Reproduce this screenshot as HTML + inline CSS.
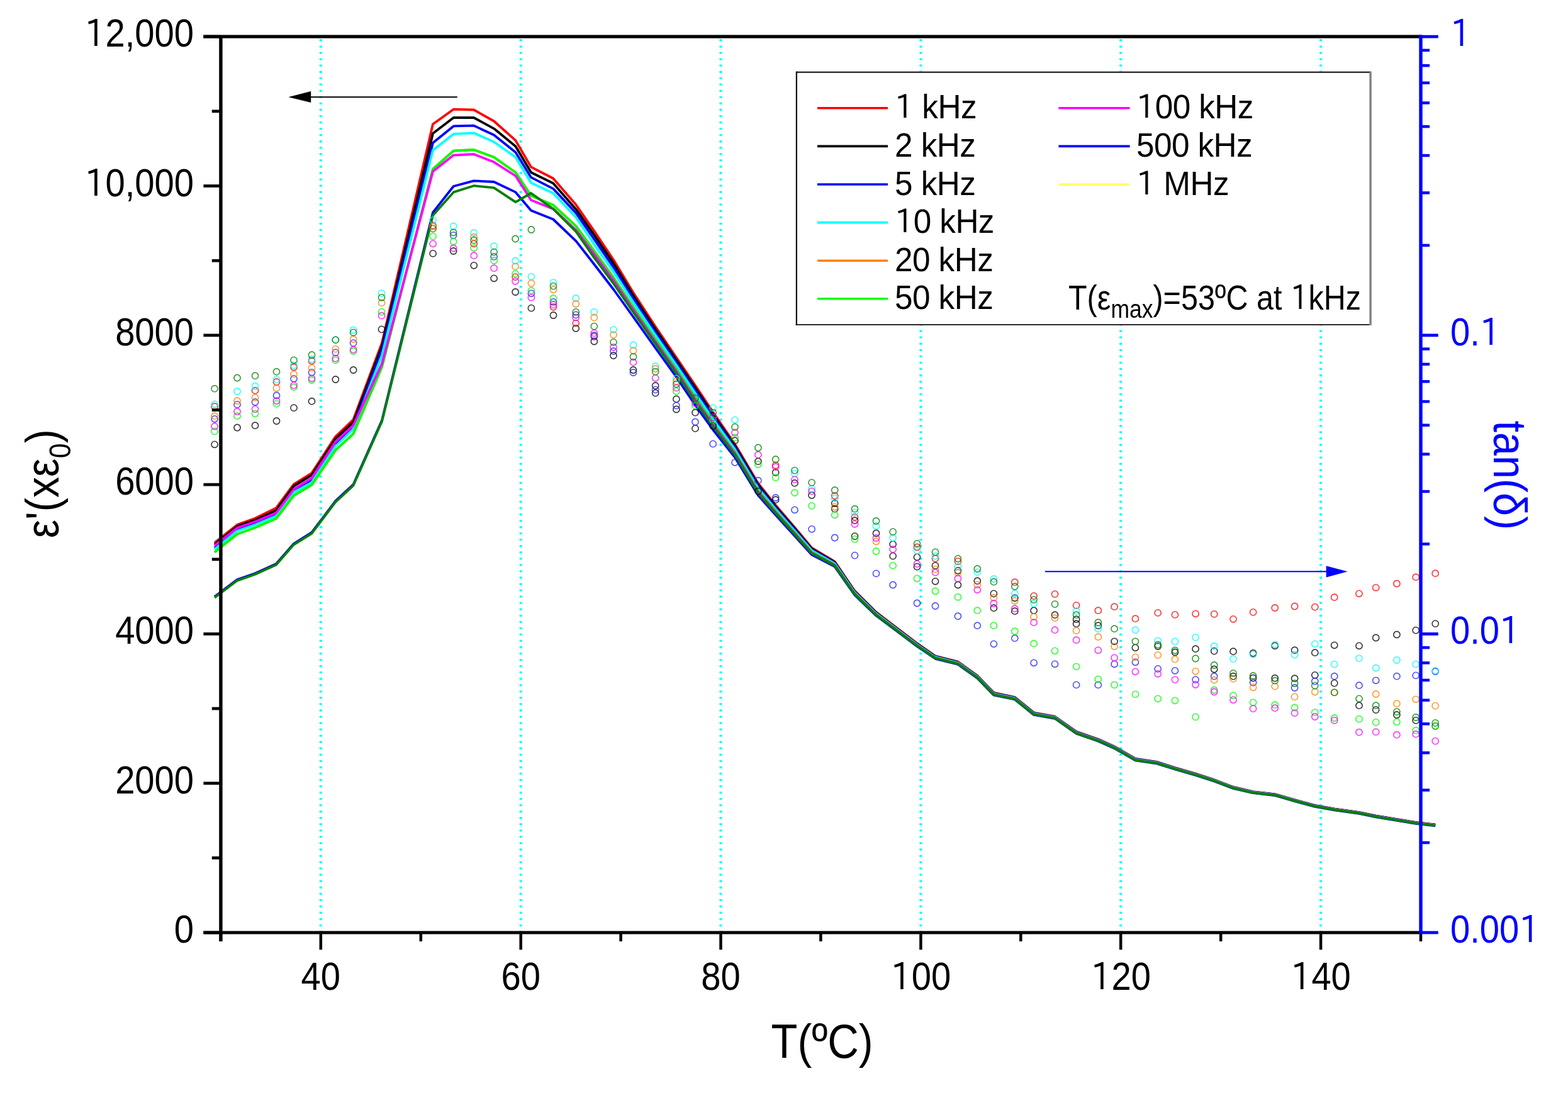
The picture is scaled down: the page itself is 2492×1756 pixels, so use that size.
<!DOCTYPE html>
<html><head><meta charset="utf-8"><style>
html,body{margin:0;padding:0;background:#fff;}
svg{display:block;}
text{font-family:'Liberation Sans', Arial, sans-serif;}
</style></head><body>
<svg width="2492" height="1756" viewBox="0 0 2492 1756">
<rect width="2492" height="1756" fill="#fff"/>
<line x1="509.8" y1="62.35" x2="509.8" y2="1480.0" stroke="#00FFFF" stroke-width="4" stroke-dasharray="3.3 6.747"/>
<line x1="827.7" y1="62.35" x2="827.7" y2="1480.0" stroke="#00FFFF" stroke-width="4" stroke-dasharray="3.3 6.747"/>
<line x1="1145.5" y1="62.35" x2="1145.5" y2="1480.0" stroke="#00FFFF" stroke-width="4" stroke-dasharray="3.3 6.747"/>
<line x1="1463.4" y1="62.35" x2="1463.4" y2="1480.0" stroke="#00FFFF" stroke-width="4" stroke-dasharray="3.3 6.747"/>
<line x1="1781.2" y1="62.35" x2="1781.2" y2="1480.0" stroke="#00FFFF" stroke-width="4" stroke-dasharray="3.3 6.747"/>
<line x1="2099.1" y1="62.35" x2="2099.1" y2="1480.0" stroke="#00FFFF" stroke-width="4" stroke-dasharray="3.3 6.747"/>
<polyline points="341.0,862.6 377.0,833.9 405.3,823.8 439.0,807.2 466.8,769.7 495.4,751.9 533.2,693.9 561.5,667.0 607.0,545.0 688.0,197.2 720.8,173.7 753.0,174.5 785.0,192.5 819.4,223.1 844.0,265.4 879.2,283.5 915.5,325.6 944.3,367.0 975.1,413.0 1006.4,465.0 1041.6,519.0 1074.8,568.0 1105.0,612.5 1133.2,655.0 1168.1,706.0 1204.8,768.0 1232.8,803.0 1262.8,838.0 1290.2,870.6 1326.6,892.4 1358.5,939.2 1392.4,972.8 1418.8,993.1 1457.3,1022.3 1486.5,1042.5 1522.4,1051.7 1553.3,1073.8 1579.4,1100.9 1612.8,1108.0 1643.1,1132.6 1676.5,1138.7 1710.6,1162.8 1745.3,1174.8 1771.1,1186.4 1804.4,1205.6 1838.5,1210.8 1867.4,1220.0 1900.1,1229.6 1929.7,1239.2 1960.0,1250.7 1991.6,1258.1 2026.2,1262.1 2057.5,1271.1 2089.8,1279.8 2120.7,1285.3 2160.0,1290.8 2186.7,1296.3 2219.9,1301.8 2250.2,1306.8 2281.2,1310.3" fill="none" stroke="#FF0000" stroke-width="3.8" stroke-linejoin="round"/>
<polyline points="341.0,865.2 377.0,836.4 405.3,826.5 439.0,811.2 466.8,772.6 495.4,755.0 533.2,697.5 561.5,671.0 607.0,550.0 688.0,212.1 720.8,187.0 753.0,187.0 785.0,204.3 819.4,232.5 844.0,274.0 879.2,291.3 915.5,332.7 944.3,373.4 975.1,418.6 1006.4,469.6 1041.6,523.1 1074.8,571.7 1105.0,616.3 1133.2,658.4 1168.1,708.5 1204.8,770.3 1232.8,804.9 1262.8,839.6 1290.2,871.9 1326.6,893.3 1358.5,940.0 1392.4,973.5 1418.8,993.7 1457.3,1022.9 1486.5,1043.0 1522.4,1052.2 1553.3,1074.3 1579.4,1101.3 1612.8,1108.4 1643.1,1133.0 1676.5,1139.1 1710.6,1163.1 1745.3,1175.2 1771.1,1186.7 1804.4,1206.0 1838.5,1211.1 1867.4,1220.3 1900.1,1229.9 1929.7,1239.4 1960.0,1251.0 1991.6,1258.3 2026.2,1262.4 2057.5,1271.4 2089.8,1280.1 2120.7,1285.6 2160.0,1291.1 2186.7,1296.6 2219.9,1302.1 2250.2,1307.1 2281.2,1310.6" fill="none" stroke="#000000" stroke-width="3.8" stroke-linejoin="round"/>
<polyline points="341.0,870.5 377.0,841.8 405.3,831.5 439.0,817.5 466.8,780.0 495.4,763.0 533.2,705.0 561.5,678.0 607.0,556.0 688.0,227.0 720.8,200.4 753.0,199.6 785.0,214.5 819.4,241.9 844.0,281.9 879.2,299.9 915.5,338.6 944.3,380.2 975.1,424.8 1006.4,474.6 1041.6,527.5 1074.8,575.8 1105.0,620.4 1133.2,662.0 1168.1,711.2 1204.8,772.7 1232.8,806.9 1262.8,841.3 1290.2,873.4 1326.6,894.4 1358.5,940.9 1392.4,974.2 1418.8,994.4 1457.3,1023.5 1486.5,1043.6 1522.4,1052.7 1553.3,1074.7 1579.4,1101.8 1612.8,1108.8 1643.1,1133.4 1676.5,1139.5 1710.6,1163.5 1745.3,1175.5 1771.1,1187.1 1804.4,1206.3 1838.5,1211.4 1867.4,1220.7 1900.1,1230.2 1929.7,1239.7 1960.0,1251.3 1991.6,1258.6 2026.2,1262.6 2057.5,1271.6 2089.8,1280.3 2120.7,1285.8 2160.0,1291.3 2186.7,1296.8 2219.9,1302.3 2250.2,1307.3 2281.2,1310.8" fill="none" stroke="#0000FF" stroke-width="3.8" stroke-linejoin="round"/>
<polyline points="341.0,873.0 377.0,843.8 405.3,834.0 439.0,820.1 466.8,782.5 495.4,766.7 533.2,709.0 561.5,682.0 607.0,565.0 688.0,238.8 720.8,212.9 753.0,211.3 785.0,225.5 819.4,249.8 844.0,290.5 879.2,307.0 915.5,345.5 944.3,388.2 975.1,431.8 1006.4,480.4 1041.6,532.6 1074.8,580.4 1105.0,625.1 1133.2,666.2 1168.1,714.4 1204.8,775.6 1232.8,809.2 1262.8,843.4 1290.2,875.0 1326.6,895.6 1358.5,941.8 1392.4,975.0 1418.8,995.1 1457.3,1024.2 1486.5,1044.2 1522.4,1053.3 1553.3,1075.3 1579.4,1102.3 1612.8,1109.4 1643.1,1133.9 1676.5,1139.9 1710.6,1164.0 1745.3,1176.0 1771.1,1187.5 1804.4,1206.7 1838.5,1211.8 1867.4,1221.0 1900.1,1230.6 1929.7,1240.1 1960.0,1251.6 1991.6,1258.9 2026.2,1262.9 2057.5,1271.9 2089.8,1280.6 2120.7,1286.1 2160.0,1291.6 2186.7,1297.1 2219.9,1302.6 2250.2,1307.6 2281.2,1311.1" fill="none" stroke="#00FFFF" stroke-width="3.8" stroke-linejoin="round"/>
<polyline points="341.0,877.4 377.0,848.7 405.3,838.5 439.0,824.0 466.8,787.5 495.4,770.6 533.2,715.4 561.5,689.3 607.0,583.0 688.0,268.6 720.8,239.6 753.0,238.0 785.0,249.8 819.4,274.0 844.0,310.9 879.2,325.8 915.5,359.3 944.3,398.8 975.1,441.2 1006.4,488.1 1041.6,539.4 1074.8,586.6 1105.0,631.4 1133.2,671.8 1168.1,718.6 1204.8,779.4 1232.8,812.3 1262.8,846.1 1290.2,877.2 1326.6,897.2 1358.5,943.1 1392.4,976.1 1418.8,996.1 1457.3,1025.1 1486.5,1045.1 1522.4,1054.1 1553.3,1076.1 1579.4,1103.1 1612.8,1110.1 1643.1,1134.6 1676.5,1140.6 1710.6,1164.6 1745.3,1176.6 1771.1,1188.1 1804.4,1207.3 1838.5,1212.4 1867.4,1221.5 1900.1,1231.0 1929.7,1240.5 1960.0,1252.0 1991.6,1259.3 2026.2,1263.3 2057.5,1272.3 2089.8,1281.0 2120.7,1286.5 2160.0,1292.0 2186.7,1297.5 2219.9,1303.0 2250.2,1308.0 2281.2,1311.5" fill="none" stroke="#FF8000" stroke-width="3.8" stroke-linejoin="round"/>
<polyline points="341.0,877.4 377.0,848.7 405.3,838.5 439.0,824.0 466.8,787.5 495.4,770.6 533.2,715.4 561.5,689.3 607.0,583.0 688.0,268.6 720.8,239.6 753.0,238.0 785.0,249.8 819.4,274.0 844.0,310.9 879.2,325.8 915.5,359.3 944.3,398.8 975.1,441.2 1006.4,488.1 1041.6,539.4 1074.8,586.6 1105.0,631.4 1133.2,671.8 1168.1,718.6 1204.8,779.4 1232.8,812.3 1262.8,846.1 1290.2,877.2 1326.6,897.2 1358.5,943.1 1392.4,976.1 1418.8,996.1 1457.3,1025.1 1486.5,1045.1 1522.4,1054.1 1553.3,1076.1 1579.4,1103.1 1612.8,1110.1 1643.1,1134.6 1676.5,1140.6 1710.6,1164.6 1745.3,1176.6 1771.1,1188.1 1804.4,1207.3 1838.5,1212.4 1867.4,1221.5 1900.1,1231.0 1929.7,1240.5 1960.0,1252.0 1991.6,1259.3 2026.2,1263.3 2057.5,1272.3 2089.8,1281.0 2120.7,1286.5 2160.0,1292.0 2186.7,1297.5 2219.9,1303.0 2250.2,1308.0 2281.2,1311.5" fill="none" stroke="#00FF00" stroke-width="3.8" stroke-linejoin="round"/>
<polyline points="341.0,867.0 377.0,838.9 405.3,829.0 439.0,815.1 466.8,777.6 495.4,759.8 533.2,702.0 561.5,676.0 607.0,578.0 688.0,272.5 720.8,246.6 753.0,245.0 785.0,257.6 819.4,279.5 844.0,318.0 879.2,332.0 915.5,366.0 944.3,404.1 975.1,445.9 1006.4,491.9 1041.6,542.8 1074.8,589.7 1105.0,634.5 1133.2,674.6 1168.1,720.7 1204.8,781.3 1232.8,813.9 1262.8,847.4 1290.2,878.3 1326.6,898.0 1358.5,943.8 1392.4,976.7 1418.8,996.6 1457.3,1025.6 1486.5,1045.5 1522.4,1054.5 1553.3,1076.5 1579.4,1103.4 1612.8,1110.4 1643.1,1134.9 1676.5,1140.9 1710.6,1164.9 1745.3,1176.8 1771.1,1188.3 1804.4,1207.5 1838.5,1212.6 1867.4,1221.8 1900.1,1231.3 1929.7,1240.8 1960.0,1252.3 1991.6,1259.6 2026.2,1263.5 2057.5,1272.5 2089.8,1281.2 2120.7,1286.7 2160.0,1292.2 2186.7,1297.7 2219.9,1303.2 2250.2,1308.2 2281.2,1311.7" fill="none" stroke="#FF00FF" stroke-width="3.8" stroke-linejoin="round"/>
<polyline points="341.0,948.3 377.0,921.0 405.3,911.2 439.0,896.0 466.8,864.0 495.4,846.2 533.2,796.2 561.5,770.0 607.0,668.0 688.0,337.6 720.8,296.0 753.0,287.4 785.0,289.0 819.4,305.4 844.0,334.4 879.2,348.5 915.5,383.1 944.3,420.0 975.1,460.0 1006.4,503.5 1041.6,553.0 1074.8,599.0 1105.0,644.0 1133.2,683.0 1168.1,727.0 1204.8,787.0 1232.8,818.5 1262.8,851.5 1290.2,881.6 1326.6,900.4 1358.5,945.7 1392.4,978.3 1418.8,998.1 1457.3,1026.9 1486.5,1046.8 1522.4,1055.7 1553.3,1077.6 1579.4,1104.6 1612.8,1111.5 1643.1,1135.9 1676.5,1141.8 1710.6,1165.8 1745.3,1177.7 1771.1,1189.2 1804.4,1208.3 1838.5,1213.4 1867.4,1222.5 1900.1,1232.0 1929.7,1241.5 1960.0,1252.9 1991.6,1260.2 2026.2,1264.1 2057.5,1273.1 2089.8,1281.8 2120.7,1287.3 2160.0,1292.8 2186.7,1298.3 2219.9,1303.8 2250.2,1308.8 2281.2,1312.3" fill="none" stroke="#0000FF" stroke-width="3.8" stroke-linejoin="round"/>
<polyline points="341.0,949.8 377.0,922.6 405.3,912.7 439.0,897.6 466.8,865.6 495.4,847.8 533.2,797.8 561.5,771.6 607.0,669.7 688.0,342.3 720.8,305.4 753.0,295.2 785.0,298.4 819.4,321.1 844.0,307.0 879.2,332.0 915.5,368.2 944.3,409.4 975.1,450.6 1006.4,495.8 1041.6,546.2 1074.8,592.8 1105.0,637.7 1133.2,677.4 1168.1,722.8 1204.8,783.2 1232.8,815.4 1262.8,848.8 1290.2,879.4 1326.6,898.8 1358.5,944.4 1392.4,977.2 1418.8,997.1 1457.3,1026.0 1486.5,1045.9 1522.4,1054.9 1553.3,1076.8 1579.4,1103.8 1612.8,1110.8 1643.1,1135.2 1676.5,1141.2 1710.6,1165.2 1745.3,1177.1 1771.1,1188.6 1804.4,1207.8 1838.5,1212.9 1867.4,1222.0 1900.1,1231.5 1929.7,1241.0 1960.0,1252.5 1991.6,1259.8 2026.2,1263.7 2057.5,1272.7 2089.8,1281.4 2120.7,1286.9 2160.0,1292.4 2186.7,1297.9 2219.9,1303.4 2250.2,1308.4 2281.2,1311.9" fill="none" stroke="#008000" stroke-width="3.8" stroke-linejoin="round"/>
<g fill="none" stroke="#FF0000" stroke-width="1.6" stroke-opacity="0.8"><circle cx="341.1" cy="646.0" r="5.1"/><circle cx="405.5" cy="620.7" r="5.1"/><circle cx="439.5" cy="607.0" r="5.1"/><circle cx="467.0" cy="583.5" r="5.1"/><circle cx="495.5" cy="573.5" r="5.1"/><circle cx="688.1" cy="358.4" r="5.1"/><circle cx="753.2" cy="387.3" r="5.1"/><circle cx="819.1" cy="440.1" r="5.1"/><circle cx="879.5" cy="487.8" r="5.1"/><circle cx="915.2" cy="513.6" r="5.1"/><circle cx="944.3" cy="535.0" r="5.1"/><circle cx="1232.7" cy="739.4" r="5.1"/><circle cx="1326.7" cy="787.8" r="5.1"/><circle cx="1358.5" cy="821.6" r="5.1"/><circle cx="1457.5" cy="869.5" r="5.1"/><circle cx="1486.5" cy="887.6" r="5.1"/><circle cx="1522.4" cy="892.1" r="5.1"/><circle cx="1612.8" cy="925.2" r="5.1"/><circle cx="1643.1" cy="947.1" r="5.1"/><circle cx="1676.5" cy="944.1" r="5.1"/><circle cx="1710.6" cy="962.1" r="5.1"/><circle cx="1745.3" cy="970.2" r="5.1"/><circle cx="1771.1" cy="964.2" r="5.1"/><circle cx="1804.4" cy="983.2" r="5.1"/><circle cx="1840.2" cy="973.9" r="5.1"/><circle cx="1867.4" cy="976.9" r="5.1"/><circle cx="1900.1" cy="975.3" r="5.1"/><circle cx="1929.7" cy="975.9" r="5.1"/><circle cx="1960.0" cy="983.8" r="5.1"/><circle cx="1991.6" cy="972.9" r="5.1"/><circle cx="2026.2" cy="966.0" r="5.1"/><circle cx="2057.6" cy="963.5" r="5.1"/><circle cx="2089.8" cy="964.6" r="5.1"/><circle cx="2120.7" cy="949.2" r="5.1"/><circle cx="2160.0" cy="943.3" r="5.1"/><circle cx="2186.7" cy="933.8" r="5.1"/><circle cx="2219.9" cy="927.5" r="5.1"/><circle cx="2250.2" cy="917.2" r="5.1"/><circle cx="2281.2" cy="911.2" r="5.1"/></g>
<g fill="none" stroke="#000000" stroke-width="1.6" stroke-opacity="0.8"><circle cx="341.1" cy="706.3" r="5.1"/><circle cx="377.0" cy="679.5" r="5.1"/><circle cx="405.5" cy="676.2" r="5.1"/><circle cx="439.5" cy="669.0" r="5.1"/><circle cx="467.0" cy="648.1" r="5.1"/><circle cx="495.5" cy="637.7" r="5.1"/><circle cx="533.3" cy="603.0" r="5.1"/><circle cx="561.6" cy="588.0" r="5.1"/><circle cx="606.5" cy="523.4" r="5.1"/><circle cx="688.1" cy="402.9" r="5.1"/><circle cx="720.6" cy="399.0" r="5.1"/><circle cx="753.2" cy="421.8" r="5.1"/><circle cx="785.1" cy="442.3" r="5.1"/><circle cx="819.1" cy="464.0" r="5.1"/><circle cx="844.4" cy="489.6" r="5.1"/><circle cx="879.5" cy="501.0" r="5.1"/><circle cx="915.2" cy="521.8" r="5.1"/><circle cx="944.3" cy="542.5" r="5.1"/><circle cx="975.0" cy="565.0" r="5.1"/><circle cx="1006.5" cy="588.0" r="5.1"/><circle cx="1041.7" cy="613.0" r="5.1"/><circle cx="1041.7" cy="624.6" r="5.1"/><circle cx="1074.9" cy="634.2" r="5.1"/><circle cx="1074.9" cy="650.5" r="5.1"/><circle cx="1105.0" cy="655.7" r="5.1"/><circle cx="1105.0" cy="680.9" r="5.1"/><circle cx="1133.2" cy="677.2" r="5.1"/><circle cx="1168.0" cy="700.2" r="5.1"/><circle cx="1204.9" cy="733.2" r="5.1"/><circle cx="1204.9" cy="780.6" r="5.1"/><circle cx="1232.7" cy="750.9" r="5.1"/><circle cx="1232.7" cy="794.2" r="5.1"/><circle cx="1263.0" cy="767.7" r="5.1"/><circle cx="1290.1" cy="787.0" r="5.1"/><circle cx="1326.7" cy="799.9" r="5.1"/><circle cx="1326.7" cy="808.7" r="5.1"/><circle cx="1358.5" cy="827.2" r="5.1"/><circle cx="1358.5" cy="852.1" r="5.1"/><circle cx="1392.5" cy="847.5" r="5.1"/><circle cx="1419.1" cy="864.9" r="5.1"/><circle cx="1419.1" cy="883.6" r="5.1"/><circle cx="1457.5" cy="885.3" r="5.1"/><circle cx="1457.5" cy="900.6" r="5.1"/><circle cx="1486.5" cy="898.9" r="5.1"/><circle cx="1486.5" cy="923.8" r="5.1"/><circle cx="1522.4" cy="906.8" r="5.1"/><circle cx="1522.4" cy="929.5" r="5.1"/><circle cx="1553.3" cy="923.2" r="5.1"/><circle cx="1579.4" cy="943.4" r="5.1"/><circle cx="1579.4" cy="966.2" r="5.1"/><circle cx="1612.8" cy="950.3" r="5.1"/><circle cx="1612.8" cy="971.2" r="5.1"/><circle cx="1643.1" cy="970.2" r="5.1"/><circle cx="1676.5" cy="977.2" r="5.1"/><circle cx="1710.6" cy="984.2" r="5.1"/><circle cx="1710.6" cy="991.2" r="5.1"/><circle cx="1745.3" cy="994.2" r="5.1"/><circle cx="1771.1" cy="1019.3" r="5.1"/><circle cx="1804.4" cy="1029.3" r="5.1"/><circle cx="1840.2" cy="1027.0" r="5.1"/><circle cx="1867.4" cy="1036.5" r="5.1"/><circle cx="1900.1" cy="1031.2" r="5.1"/><circle cx="1929.7" cy="1034.6" r="5.1"/><circle cx="1929.7" cy="1063.5" r="5.1"/><circle cx="1960.0" cy="1035.2" r="5.1"/><circle cx="1960.0" cy="1074.7" r="5.1"/><circle cx="1991.6" cy="1038.0" r="5.1"/><circle cx="1991.6" cy="1077.5" r="5.1"/><circle cx="2026.2" cy="1026.3" r="5.1"/><circle cx="2026.2" cy="1077.7" r="5.1"/><circle cx="2057.6" cy="1033.2" r="5.1"/><circle cx="2057.6" cy="1078.2" r="5.1"/><circle cx="2089.8" cy="1037.2" r="5.1"/><circle cx="2089.8" cy="1072.8" r="5.1"/><circle cx="2120.7" cy="1025.3" r="5.1"/><circle cx="2120.7" cy="1085.6" r="5.1"/><circle cx="2160.0" cy="1026.3" r="5.1"/><circle cx="2160.0" cy="1121.2" r="5.1"/><circle cx="2186.7" cy="1013.5" r="5.1"/><circle cx="2186.7" cy="1128.1" r="5.1"/><circle cx="2219.9" cy="1008.5" r="5.1"/><circle cx="2219.9" cy="1136.0" r="5.1"/><circle cx="2250.2" cy="1001.6" r="5.1"/><circle cx="2250.2" cy="1144.9" r="5.1"/><circle cx="2281.2" cy="991.1" r="5.1"/><circle cx="2281.2" cy="1153.8" r="5.1"/></g>
<g fill="none" stroke="#2020FF" stroke-width="1.6" stroke-opacity="0.8"><circle cx="341.1" cy="665.8" r="5.1"/><circle cx="377.0" cy="642.9" r="5.1"/><circle cx="405.5" cy="639.0" r="5.1"/><circle cx="439.5" cy="628.5" r="5.1"/><circle cx="467.0" cy="601.8" r="5.1"/><circle cx="495.5" cy="591.8" r="5.1"/><circle cx="533.3" cy="560.1" r="5.1"/><circle cx="561.6" cy="545.1" r="5.1"/><circle cx="720.6" cy="373.9" r="5.1"/><circle cx="785.1" cy="407.9" r="5.1"/><circle cx="844.4" cy="466.3" r="5.1"/><circle cx="879.5" cy="479.8" r="5.1"/><circle cx="915.2" cy="500.4" r="5.1"/><circle cx="944.3" cy="533.0" r="5.1"/><circle cx="975.0" cy="558.0" r="5.1"/><circle cx="1006.5" cy="592.0" r="5.1"/><circle cx="1041.7" cy="619.4" r="5.1"/><circle cx="1074.9" cy="644.6" r="5.1"/><circle cx="1105.0" cy="670.5" r="5.1"/><circle cx="1133.2" cy="705.4" r="5.1"/><circle cx="1168.0" cy="734.8" r="5.1"/><circle cx="1204.9" cy="763.7" r="5.1"/><circle cx="1232.7" cy="791.0" r="5.1"/><circle cx="1263.0" cy="810.3" r="5.1"/><circle cx="1290.1" cy="840.8" r="5.1"/><circle cx="1326.7" cy="854.5" r="5.1"/><circle cx="1358.5" cy="882.6" r="5.1"/><circle cx="1392.5" cy="911.4" r="5.1"/><circle cx="1419.1" cy="929.5" r="5.1"/><circle cx="1457.5" cy="958.5" r="5.1"/><circle cx="1486.5" cy="963.0" r="5.1"/><circle cx="1522.4" cy="979.2" r="5.1"/><circle cx="1553.3" cy="994.2" r="5.1"/><circle cx="1579.4" cy="1023.3" r="5.1"/><circle cx="1612.8" cy="1014.2" r="5.1"/><circle cx="1643.1" cy="1053.3" r="5.1"/><circle cx="1676.5" cy="1055.3" r="5.1"/><circle cx="1710.6" cy="1088.4" r="5.1"/><circle cx="1745.3" cy="1088.4" r="5.1"/><circle cx="1771.1" cy="1055.3" r="5.1"/><circle cx="1804.4" cy="1052.3" r="5.1"/><circle cx="1840.2" cy="1062.9" r="5.1"/><circle cx="1867.4" cy="1065.8" r="5.1"/><circle cx="1900.1" cy="1080.1" r="5.1"/><circle cx="1929.7" cy="1074.7" r="5.1"/><circle cx="1991.6" cy="1084.6" r="5.1"/><circle cx="2057.6" cy="1093.0" r="5.1"/><circle cx="2089.8" cy="1082.6" r="5.1"/><circle cx="2120.7" cy="1074.7" r="5.1"/><circle cx="2160.0" cy="1089.2" r="5.1"/><circle cx="2186.7" cy="1081.3" r="5.1"/><circle cx="2219.9" cy="1074.7" r="5.1"/><circle cx="2250.2" cy="1073.4" r="5.1"/><circle cx="2281.2" cy="1067.0" r="5.1"/></g>
<g fill="none" stroke="#00FFFF" stroke-width="1.6" stroke-opacity="0.8"><circle cx="341.1" cy="642.3" r="5.1"/><circle cx="377.0" cy="622.0" r="5.1"/><circle cx="405.5" cy="613.5" r="5.1"/><circle cx="439.5" cy="603.1" r="5.1"/><circle cx="467.0" cy="580.7" r="5.1"/><circle cx="495.5" cy="570.7" r="5.1"/><circle cx="533.3" cy="540.1" r="5.1"/><circle cx="561.6" cy="524.5" r="5.1"/><circle cx="606.5" cy="466.1" r="5.1"/><circle cx="688.1" cy="349.8" r="5.1"/><circle cx="720.6" cy="359.5" r="5.1"/><circle cx="753.2" cy="370.0" r="5.1"/><circle cx="785.1" cy="391.2" r="5.1"/><circle cx="819.1" cy="414.5" r="5.1"/><circle cx="844.4" cy="439.6" r="5.1"/><circle cx="879.5" cy="448.9" r="5.1"/><circle cx="915.2" cy="474.0" r="5.1"/><circle cx="944.3" cy="495.8" r="5.1"/><circle cx="975.0" cy="523.9" r="5.1"/><circle cx="1006.5" cy="548.2" r="5.1"/><circle cx="1041.7" cy="582.0" r="5.1"/><circle cx="1074.9" cy="601.6" r="5.1"/><circle cx="1133.2" cy="648.3" r="5.1"/><circle cx="1168.0" cy="667.3" r="5.1"/><circle cx="1263.0" cy="752.5" r="5.1"/><circle cx="1290.1" cy="776.6" r="5.1"/><circle cx="1326.7" cy="791.8" r="5.1"/><circle cx="1358.5" cy="814.3" r="5.1"/><circle cx="1392.5" cy="836.0" r="5.1"/><circle cx="1419.1" cy="854.7" r="5.1"/><circle cx="1457.5" cy="875.1" r="5.1"/><circle cx="1486.5" cy="883.6" r="5.1"/><circle cx="1522.4" cy="900.5" r="5.1"/><circle cx="1553.3" cy="909.1" r="5.1"/><circle cx="1579.4" cy="920.0" r="5.1"/><circle cx="1612.8" cy="943.3" r="5.1"/><circle cx="1643.1" cy="959.1" r="5.1"/><circle cx="1710.6" cy="971.2" r="5.1"/><circle cx="1745.3" cy="999.2" r="5.1"/><circle cx="1804.4" cy="1001.2" r="5.1"/><circle cx="1840.2" cy="1018.4" r="5.1"/><circle cx="1867.4" cy="1019.4" r="5.1"/><circle cx="1900.1" cy="1012.9" r="5.1"/><circle cx="1929.7" cy="1026.7" r="5.1"/><circle cx="1960.0" cy="1047.1" r="5.1"/><circle cx="1991.6" cy="1040.1" r="5.1"/><circle cx="2026.2" cy="1024.3" r="5.1"/><circle cx="2057.6" cy="1040.6" r="5.1"/><circle cx="2089.8" cy="1023.3" r="5.1"/><circle cx="2120.7" cy="1055.6" r="5.1"/><circle cx="2160.0" cy="1046.1" r="5.1"/><circle cx="2186.7" cy="1061.5" r="5.1"/><circle cx="2219.9" cy="1049.0" r="5.1"/><circle cx="2250.2" cy="1055.6" r="5.1"/><circle cx="2281.2" cy="1065.8" r="5.1"/></g>
<g fill="none" stroke="#FF8000" stroke-width="1.6" stroke-opacity="0.8"><circle cx="341.1" cy="661.2" r="5.1"/><circle cx="377.0" cy="637.0" r="5.1"/><circle cx="405.5" cy="631.8" r="5.1"/><circle cx="439.5" cy="616.8" r="5.1"/><circle cx="467.0" cy="594.6" r="5.1"/><circle cx="495.5" cy="584.6" r="5.1"/><circle cx="533.3" cy="554.6" r="5.1"/><circle cx="561.6" cy="539.0" r="5.1"/><circle cx="606.5" cy="481.2" r="5.1"/><circle cx="688.1" cy="360.0" r="5.1"/><circle cx="753.2" cy="376.7" r="5.1"/><circle cx="819.1" cy="423.4" r="5.1"/><circle cx="844.4" cy="450.1" r="5.1"/><circle cx="879.5" cy="460.3" r="5.1"/><circle cx="915.2" cy="483.0" r="5.1"/><circle cx="944.3" cy="504.7" r="5.1"/><circle cx="975.0" cy="532.1" r="5.1"/><circle cx="1006.5" cy="557.2" r="5.1"/><circle cx="1041.7" cy="586.0" r="5.1"/><circle cx="1074.9" cy="606.0" r="5.1"/><circle cx="1326.7" cy="805.5" r="5.1"/><circle cx="1392.5" cy="860.5" r="5.1"/><circle cx="1486.5" cy="904.6" r="5.1"/><circle cx="1522.4" cy="910.0" r="5.1"/><circle cx="1553.3" cy="929.3" r="5.1"/><circle cx="1579.4" cy="950.0" r="5.1"/><circle cx="1612.8" cy="954.8" r="5.1"/><circle cx="1643.1" cy="980.2" r="5.1"/><circle cx="1676.5" cy="982.2" r="5.1"/><circle cx="1710.6" cy="1002.2" r="5.1"/><circle cx="1745.3" cy="1012.2" r="5.1"/><circle cx="1771.1" cy="1027.3" r="5.1"/><circle cx="1804.4" cy="1044.3" r="5.1"/><circle cx="1840.2" cy="1041.1" r="5.1"/><circle cx="1867.4" cy="1047.7" r="5.1"/><circle cx="1900.1" cy="1066.8" r="5.1"/><circle cx="1929.7" cy="1080.7" r="5.1"/><circle cx="1960.0" cy="1078.7" r="5.1"/><circle cx="1991.6" cy="1092.5" r="5.1"/><circle cx="2026.2" cy="1090.6" r="5.1"/><circle cx="2057.6" cy="1107.4" r="5.1"/><circle cx="2089.8" cy="1099.5" r="5.1"/><circle cx="2120.7" cy="1100.4" r="5.1"/><circle cx="2186.7" cy="1103.0" r="5.1"/><circle cx="2219.9" cy="1118.2" r="5.1"/><circle cx="2250.2" cy="1111.3" r="5.1"/><circle cx="2281.2" cy="1121.6" r="5.1"/></g>
<g fill="none" stroke="#00FF00" stroke-width="1.6" stroke-opacity="0.8"><circle cx="341.1" cy="685.4" r="5.1"/><circle cx="377.0" cy="661.2" r="5.1"/><circle cx="405.5" cy="657.3" r="5.1"/><circle cx="439.5" cy="641.6" r="5.1"/><circle cx="467.0" cy="615.2" r="5.1"/><circle cx="495.5" cy="604.0" r="5.1"/><circle cx="533.3" cy="572.4" r="5.1"/><circle cx="561.6" cy="558.0" r="5.1"/><circle cx="606.5" cy="495.6" r="5.1"/><circle cx="688.1" cy="375.6" r="5.1"/><circle cx="720.6" cy="384.0" r="5.1"/><circle cx="753.2" cy="394.0" r="5.1"/><circle cx="785.1" cy="414.0" r="5.1"/><circle cx="819.1" cy="435.1" r="5.1"/><circle cx="844.4" cy="461.8" r="5.1"/><circle cx="879.5" cy="474.0" r="5.1"/><circle cx="1074.9" cy="621.6" r="5.1"/><circle cx="1105.0" cy="644.6" r="5.1"/><circle cx="1133.2" cy="667.6" r="5.1"/><circle cx="1168.0" cy="695.4" r="5.1"/><circle cx="1204.9" cy="738.0" r="5.1"/><circle cx="1232.7" cy="758.9" r="5.1"/><circle cx="1263.0" cy="783.0" r="5.1"/><circle cx="1290.1" cy="803.9" r="5.1"/><circle cx="1326.7" cy="818.3" r="5.1"/><circle cx="1358.5" cy="856.9" r="5.1"/><circle cx="1392.5" cy="876.0" r="5.1"/><circle cx="1419.1" cy="898.9" r="5.1"/><circle cx="1457.5" cy="919.3" r="5.1"/><circle cx="1486.5" cy="939.5" r="5.1"/><circle cx="1522.4" cy="948.9" r="5.1"/><circle cx="1553.3" cy="970.2" r="5.1"/><circle cx="1579.4" cy="994.2" r="5.1"/><circle cx="1612.8" cy="1003.2" r="5.1"/><circle cx="1643.1" cy="1022.7" r="5.1"/><circle cx="1676.5" cy="1034.3" r="5.1"/><circle cx="1710.6" cy="1059.3" r="5.1"/><circle cx="1745.3" cy="1079.4" r="5.1"/><circle cx="1771.1" cy="1088.4" r="5.1"/><circle cx="1804.4" cy="1103.4" r="5.1"/><circle cx="1840.2" cy="1110.3" r="5.1"/><circle cx="1867.4" cy="1113.3" r="5.1"/><circle cx="1900.1" cy="1139.4" r="5.1"/><circle cx="1929.7" cy="1096.5" r="5.1"/><circle cx="1960.0" cy="1105.4" r="5.1"/><circle cx="1991.6" cy="1116.3" r="5.1"/><circle cx="2026.2" cy="1120.2" r="5.1"/><circle cx="2057.6" cy="1124.5" r="5.1"/><circle cx="2089.8" cy="1132.1" r="5.1"/><circle cx="2120.7" cy="1141.0" r="5.1"/><circle cx="2160.0" cy="1142.6" r="5.1"/><circle cx="2186.7" cy="1147.9" r="5.1"/><circle cx="2219.9" cy="1147.3" r="5.1"/><circle cx="2250.2" cy="1160.7" r="5.1"/><circle cx="2281.2" cy="1153.8" r="5.1"/></g>
<g fill="none" stroke="#FF00FF" stroke-width="1.6" stroke-opacity="0.8"><circle cx="341.1" cy="677.5" r="5.1"/><circle cx="377.0" cy="654.0" r="5.1"/><circle cx="405.5" cy="650.1" r="5.1"/><circle cx="439.5" cy="637.0" r="5.1"/><circle cx="467.0" cy="612.4" r="5.1"/><circle cx="495.5" cy="601.3" r="5.1"/><circle cx="533.3" cy="569.6" r="5.1"/><circle cx="561.6" cy="555.7" r="5.1"/><circle cx="606.5" cy="501.7" r="5.1"/><circle cx="688.1" cy="387.3" r="5.1"/><circle cx="720.6" cy="394.5" r="5.1"/><circle cx="753.2" cy="406.2" r="5.1"/><circle cx="785.1" cy="426.2" r="5.1"/><circle cx="819.1" cy="446.8" r="5.1"/><circle cx="844.4" cy="472.9" r="5.1"/><circle cx="879.5" cy="484.4" r="5.1"/><circle cx="915.2" cy="504.7" r="5.1"/><circle cx="944.3" cy="529.4" r="5.1"/><circle cx="975.0" cy="551.8" r="5.1"/><circle cx="1006.5" cy="575.7" r="5.1"/><circle cx="1041.7" cy="600.8" r="5.1"/><circle cx="1074.9" cy="616.4" r="5.1"/><circle cx="1105.0" cy="640.9" r="5.1"/><circle cx="1133.2" cy="663.1" r="5.1"/><circle cx="1168.0" cy="687.4" r="5.1"/><circle cx="1204.9" cy="722.7" r="5.1"/><circle cx="1232.7" cy="742.0" r="5.1"/><circle cx="1263.0" cy="762.1" r="5.1"/><circle cx="1290.1" cy="780.6" r="5.1"/><circle cx="1358.5" cy="832.8" r="5.1"/><circle cx="1392.5" cy="855.0" r="5.1"/><circle cx="1419.1" cy="872.9" r="5.1"/><circle cx="1457.5" cy="896.1" r="5.1"/><circle cx="1486.5" cy="909.7" r="5.1"/><circle cx="1522.4" cy="919.5" r="5.1"/><circle cx="1553.3" cy="937.3" r="5.1"/><circle cx="1579.4" cy="959.0" r="5.1"/><circle cx="1612.8" cy="967.2" r="5.1"/><circle cx="1643.1" cy="989.2" r="5.1"/><circle cx="1676.5" cy="1001.2" r="5.1"/><circle cx="1710.6" cy="1017.2" r="5.1"/><circle cx="1745.3" cy="1033.3" r="5.1"/><circle cx="1771.1" cy="1045.3" r="5.1"/><circle cx="1804.4" cy="1067.3" r="5.1"/><circle cx="1840.2" cy="1070.8" r="5.1"/><circle cx="1867.4" cy="1080.1" r="5.1"/><circle cx="1900.1" cy="1088.0" r="5.1"/><circle cx="1929.7" cy="1099.5" r="5.1"/><circle cx="1960.0" cy="1112.3" r="5.1"/><circle cx="1991.6" cy="1126.1" r="5.1"/><circle cx="2026.2" cy="1125.2" r="5.1"/><circle cx="2057.6" cy="1133.1" r="5.1"/><circle cx="2089.8" cy="1139.0" r="5.1"/><circle cx="2120.7" cy="1144.9" r="5.1"/><circle cx="2160.0" cy="1163.7" r="5.1"/><circle cx="2186.7" cy="1163.1" r="5.1"/><circle cx="2219.9" cy="1167.7" r="5.1"/><circle cx="2250.2" cy="1166.7" r="5.1"/><circle cx="2281.2" cy="1177.6" r="5.1"/></g>
<g fill="none" stroke="#008000" stroke-width="1.6" stroke-opacity="0.8"><circle cx="341.1" cy="617.7" r="5.1"/><circle cx="377.0" cy="600.5" r="5.1"/><circle cx="405.5" cy="597.2" r="5.1"/><circle cx="439.5" cy="590.7" r="5.1"/><circle cx="467.0" cy="572.4" r="5.1"/><circle cx="495.5" cy="564.0" r="5.1"/><circle cx="533.3" cy="540.1" r="5.1"/><circle cx="561.6" cy="528.4" r="5.1"/><circle cx="606.5" cy="472.8" r="5.1"/><circle cx="688.1" cy="363.4" r="5.1"/><circle cx="720.6" cy="369.5" r="5.1"/><circle cx="753.2" cy="381.7" r="5.1"/><circle cx="785.1" cy="400.6" r="5.1"/><circle cx="819.1" cy="379.5" r="5.1"/><circle cx="844.4" cy="365.0" r="5.1"/><circle cx="879.5" cy="454.6" r="5.1"/><circle cx="915.2" cy="495.8" r="5.1"/><circle cx="944.3" cy="518.6" r="5.1"/><circle cx="975.0" cy="543.8" r="5.1"/><circle cx="1006.5" cy="567.0" r="5.1"/><circle cx="1041.7" cy="590.6" r="5.1"/><circle cx="1074.9" cy="610.5" r="5.1"/><circle cx="1105.0" cy="632.7" r="5.1"/><circle cx="1133.2" cy="655.7" r="5.1"/><circle cx="1168.0" cy="678.6" r="5.1"/><circle cx="1204.9" cy="711.5" r="5.1"/><circle cx="1232.7" cy="730.0" r="5.1"/><circle cx="1263.0" cy="747.6" r="5.1"/><circle cx="1290.1" cy="766.9" r="5.1"/><circle cx="1326.7" cy="779.0" r="5.1"/><circle cx="1358.5" cy="808.7" r="5.1"/><circle cx="1392.5" cy="828.0" r="5.1"/><circle cx="1419.1" cy="845.1" r="5.1"/><circle cx="1457.5" cy="863.8" r="5.1"/><circle cx="1486.5" cy="877.4" r="5.1"/><circle cx="1522.4" cy="887.8" r="5.1"/><circle cx="1553.3" cy="904.0" r="5.1"/><circle cx="1579.4" cy="924.7" r="5.1"/><circle cx="1612.8" cy="932.0" r="5.1"/><circle cx="1643.1" cy="953.1" r="5.1"/><circle cx="1676.5" cy="960.1" r="5.1"/><circle cx="1710.6" cy="977.2" r="5.1"/><circle cx="1745.3" cy="989.2" r="5.1"/><circle cx="1771.1" cy="999.2" r="5.1"/><circle cx="1804.4" cy="1019.3" r="5.1"/><circle cx="1840.2" cy="1024.5" r="5.1"/><circle cx="1867.4" cy="1033.5" r="5.1"/><circle cx="1900.1" cy="1046.5" r="5.1"/><circle cx="1929.7" cy="1057.0" r="5.1"/><circle cx="1960.0" cy="1069.8" r="5.1"/><circle cx="1991.6" cy="1074.0" r="5.1"/><circle cx="2026.2" cy="1081.7" r="5.1"/><circle cx="2057.6" cy="1086.0" r="5.1"/><circle cx="2089.8" cy="1089.6" r="5.1"/><circle cx="2120.7" cy="1100.4" r="5.1"/><circle cx="2160.0" cy="1110.3" r="5.1"/><circle cx="2186.7" cy="1121.2" r="5.1"/><circle cx="2219.9" cy="1131.1" r="5.1"/><circle cx="2250.2" cy="1140.0" r="5.1"/><circle cx="2281.2" cy="1148.9" r="5.1"/></g>
<line x1="350.9" y1="58.2" x2="350.9" y2="1496.0" stroke="#000" stroke-width="5.4"/>
<line x1="323.4" y1="58.2" x2="2258.0" y2="58.2" stroke="#000" stroke-width="5.2"/>
<line x1="323.4" y1="1482.0" x2="2258.0" y2="1482.0" stroke="#000" stroke-width="4.8"/>
<line x1="323.4" y1="1482.0" x2="350.9" y2="1482.0" stroke="#000" stroke-width="4.7"/>
<line x1="336.8" y1="1363.3" x2="350.9" y2="1363.3" stroke="#000" stroke-width="4.7"/>
<line x1="323.4" y1="1244.7" x2="350.9" y2="1244.7" stroke="#000" stroke-width="4.7"/>
<line x1="336.8" y1="1126.0" x2="350.9" y2="1126.0" stroke="#000" stroke-width="4.7"/>
<line x1="323.4" y1="1007.4" x2="350.9" y2="1007.4" stroke="#000" stroke-width="4.7"/>
<line x1="336.8" y1="888.8" x2="350.9" y2="888.8" stroke="#000" stroke-width="4.7"/>
<line x1="323.4" y1="770.1" x2="350.9" y2="770.1" stroke="#000" stroke-width="4.7"/>
<line x1="336.8" y1="651.5" x2="350.9" y2="651.5" stroke="#000" stroke-width="4.7"/>
<line x1="323.4" y1="532.8" x2="350.9" y2="532.8" stroke="#000" stroke-width="4.7"/>
<line x1="336.8" y1="414.2" x2="350.9" y2="414.2" stroke="#000" stroke-width="4.7"/>
<line x1="323.4" y1="295.5" x2="350.9" y2="295.5" stroke="#000" stroke-width="4.7"/>
<line x1="336.8" y1="176.8" x2="350.9" y2="176.8" stroke="#000" stroke-width="4.7"/>
<line x1="323.4" y1="58.2" x2="350.9" y2="58.2" stroke="#000" stroke-width="4.7"/>
<line x1="350.9" y1="1482.0" x2="350.9" y2="1496" stroke="#000" stroke-width="4.5"/>
<line x1="509.8" y1="1482.0" x2="509.8" y2="1509.2" stroke="#000" stroke-width="4.5"/>
<line x1="668.8" y1="1482.0" x2="668.8" y2="1496" stroke="#000" stroke-width="4.5"/>
<line x1="827.7" y1="1482.0" x2="827.7" y2="1509.2" stroke="#000" stroke-width="4.5"/>
<line x1="986.6" y1="1482.0" x2="986.6" y2="1496" stroke="#000" stroke-width="4.5"/>
<line x1="1145.5" y1="1482.0" x2="1145.5" y2="1509.2" stroke="#000" stroke-width="4.5"/>
<line x1="1304.4" y1="1482.0" x2="1304.4" y2="1496" stroke="#000" stroke-width="4.5"/>
<line x1="1463.4" y1="1482.0" x2="1463.4" y2="1509.2" stroke="#000" stroke-width="4.5"/>
<line x1="1622.3" y1="1482.0" x2="1622.3" y2="1496" stroke="#000" stroke-width="4.5"/>
<line x1="1781.2" y1="1482.0" x2="1781.2" y2="1509.2" stroke="#000" stroke-width="4.5"/>
<line x1="1940.2" y1="1482.0" x2="1940.2" y2="1496" stroke="#000" stroke-width="4.5"/>
<line x1="2099.1" y1="1482.0" x2="2099.1" y2="1509.2" stroke="#000" stroke-width="4.5"/>
<line x1="2258.0" y1="1482.0" x2="2258.0" y2="1496" stroke="#000" stroke-width="4.5"/>
<line x1="2258.0" y1="55.6" x2="2258.0" y2="1484.4" stroke="#0000FF" stroke-width="5.4"/>
<line x1="2258.0" y1="58.2" x2="2285.7" y2="58.2" stroke="#0000FF" stroke-width="4.8"/>
<line x1="2258.0" y1="532.8" x2="2285.7" y2="532.8" stroke="#0000FF" stroke-width="4.8"/>
<line x1="2258.0" y1="1007.4" x2="2285.7" y2="1007.4" stroke="#0000FF" stroke-width="4.8"/>
<line x1="2258.0" y1="1482.0" x2="2285.7" y2="1482.0" stroke="#0000FF" stroke-width="4.8"/>
<line x1="2258.0" y1="389.9" x2="2272.1" y2="389.9" stroke="#0000FF" stroke-width="4.5"/>
<line x1="2258.0" y1="306.4" x2="2272.1" y2="306.4" stroke="#0000FF" stroke-width="4.5"/>
<line x1="2258.0" y1="247.1" x2="2272.1" y2="247.1" stroke="#0000FF" stroke-width="4.5"/>
<line x1="2258.0" y1="201.1" x2="2272.1" y2="201.1" stroke="#0000FF" stroke-width="4.5"/>
<line x1="2258.0" y1="163.5" x2="2272.1" y2="163.5" stroke="#0000FF" stroke-width="4.5"/>
<line x1="2258.0" y1="131.7" x2="2272.1" y2="131.7" stroke="#0000FF" stroke-width="4.5"/>
<line x1="2258.0" y1="104.2" x2="2272.1" y2="104.2" stroke="#0000FF" stroke-width="4.5"/>
<line x1="2258.0" y1="79.9" x2="2272.1" y2="79.9" stroke="#0000FF" stroke-width="4.5"/>
<line x1="2258.0" y1="864.5" x2="2272.1" y2="864.5" stroke="#0000FF" stroke-width="4.5"/>
<line x1="2258.0" y1="781.0" x2="2272.1" y2="781.0" stroke="#0000FF" stroke-width="4.5"/>
<line x1="2258.0" y1="721.7" x2="2272.1" y2="721.7" stroke="#0000FF" stroke-width="4.5"/>
<line x1="2258.0" y1="675.7" x2="2272.1" y2="675.7" stroke="#0000FF" stroke-width="4.5"/>
<line x1="2258.0" y1="638.1" x2="2272.1" y2="638.1" stroke="#0000FF" stroke-width="4.5"/>
<line x1="2258.0" y1="606.3" x2="2272.1" y2="606.3" stroke="#0000FF" stroke-width="4.5"/>
<line x1="2258.0" y1="578.8" x2="2272.1" y2="578.8" stroke="#0000FF" stroke-width="4.5"/>
<line x1="2258.0" y1="554.5" x2="2272.1" y2="554.5" stroke="#0000FF" stroke-width="4.5"/>
<line x1="2258.0" y1="1339.1" x2="2272.1" y2="1339.1" stroke="#0000FF" stroke-width="4.5"/>
<line x1="2258.0" y1="1255.6" x2="2272.1" y2="1255.6" stroke="#0000FF" stroke-width="4.5"/>
<line x1="2258.0" y1="1196.3" x2="2272.1" y2="1196.3" stroke="#0000FF" stroke-width="4.5"/>
<line x1="2258.0" y1="1150.3" x2="2272.1" y2="1150.3" stroke="#0000FF" stroke-width="4.5"/>
<line x1="2258.0" y1="1112.7" x2="2272.1" y2="1112.7" stroke="#0000FF" stroke-width="4.5"/>
<line x1="2258.0" y1="1080.9" x2="2272.1" y2="1080.9" stroke="#0000FF" stroke-width="4.5"/>
<line x1="2258.0" y1="1053.4" x2="2272.1" y2="1053.4" stroke="#0000FF" stroke-width="4.5"/>
<line x1="2258.0" y1="1029.1" x2="2272.1" y2="1029.1" stroke="#0000FF" stroke-width="4.5"/>
<text transform="translate(308.00,1498.00) scale(0.88,1)" font-size="63.8" text-anchor="end">0</text>
<text transform="translate(308.00,1260.70) scale(0.88,1)" font-size="63.8" text-anchor="end">2000</text>
<text transform="translate(308.00,1023.40) scale(0.88,1)" font-size="63.8" text-anchor="end">4000</text>
<text transform="translate(308.00,786.10) scale(0.88,1)" font-size="63.8" text-anchor="end">6000</text>
<text transform="translate(308.00,548.80) scale(0.88,1)" font-size="63.8" text-anchor="end">8000</text>
<text transform="translate(308.00,311.50) scale(0.88,1)" font-size="63.8" text-anchor="end"><tspan font-family="IPAPGothic, Liberation Sans, sans-serif" font-size="93.6%">1</tspan>0,000</text>
<text transform="translate(308.00,74.20) scale(0.88,1)" font-size="63.8" text-anchor="end"><tspan font-family="IPAPGothic, Liberation Sans, sans-serif" font-size="93.6%">1</tspan>2,000</text>
<text transform="translate(509.82,1572.60) scale(0.88,1)" font-size="63.8" text-anchor="middle">40</text>
<text transform="translate(827.67,1572.60) scale(0.88,1)" font-size="63.8" text-anchor="middle">60</text>
<text transform="translate(1145.53,1572.60) scale(0.88,1)" font-size="63.8" text-anchor="middle">80</text>
<text transform="translate(1463.38,1572.60) scale(0.88,1)" font-size="63.8" text-anchor="middle"><tspan font-family="IPAPGothic, Liberation Sans, sans-serif" font-size="93.6%">1</tspan>00</text>
<text transform="translate(1781.22,1572.60) scale(0.88,1)" font-size="63.8" text-anchor="middle"><tspan font-family="IPAPGothic, Liberation Sans, sans-serif" font-size="93.6%">1</tspan>20</text>
<text transform="translate(2099.07,1572.60) scale(0.88,1)" font-size="63.8" text-anchor="middle"><tspan font-family="IPAPGothic, Liberation Sans, sans-serif" font-size="93.6%">1</tspan>40</text>
<text transform="translate(2305.00,74.20) scale(0.88,1)" font-size="63.8" fill="#0000FF"><tspan font-family="IPAPGothic, Liberation Sans, sans-serif" font-size="93.6%">1</tspan></text>
<text transform="translate(2305.00,548.80) scale(0.88,1)" font-size="63.8" fill="#0000FF">0.<tspan font-family="IPAPGothic, Liberation Sans, sans-serif" font-size="93.6%">1</tspan></text>
<text transform="translate(2305.00,1023.40) scale(0.88,1)" font-size="63.8" fill="#0000FF">0.0<tspan font-family="IPAPGothic, Liberation Sans, sans-serif" font-size="93.6%">1</tspan></text>
<text transform="translate(2305.00,1498.00) scale(0.88,1)" font-size="63.8" fill="#0000FF">0.00<tspan font-family="IPAPGothic, Liberation Sans, sans-serif" font-size="93.6%">1</tspan></text>
<text transform="translate(1306.60,1681.00) scale(0.897,1)" font-size="76.5" text-anchor="middle">T(<tspan dy="-2">º</tspan><tspan dy="2">C)</tspan></text>
<text transform="translate(92.50,768.80) rotate(-90) scale(0.89,1)" font-size="74.5" text-anchor="middle">ε'(xε<tspan font-size="48.5" dy="19">0</tspan><tspan dy="-19">)</tspan></text>
<text transform="translate(2374.00,755.30) rotate(90) scale(0.894,1)" font-size="74.3" text-anchor="middle" fill="#0000FF">tan(δ)</text>
<line x1="493" y1="154.2" x2="726.8" y2="154.2" stroke="#000" stroke-width="2"/>
<polygon points="458.3,154.2 494.2,145 494.2,162.9" fill="#000"/>
<line x1="1660.8" y1="908.3" x2="2108" y2="908.3" stroke="#0000FF" stroke-width="2"/>
<polygon points="2141.7,908.3 2107.7,899.3 2107.7,917.4" fill="#0000FF"/>
<rect x="1266" y="115" width="912" height="401" fill="#fff"/>
<line x1="1266" y1="114.8" x2="2178" y2="114.8" stroke="#333" stroke-width="2.6"/>
<line x1="1264.6" y1="516" x2="2176.5" y2="516" stroke="#2a2a2a" stroke-width="2.2"/>
<line x1="1265.9" y1="113.5" x2="1265.9" y2="517.1" stroke="#111" stroke-width="2.2"/>
<line x1="2178.1" y1="113.5" x2="2178.1" y2="517.1" stroke="#808080" stroke-width="3.4"/>
<line x1="1299" y1="171.8" x2="1411" y2="171.8" stroke="#FF0000" stroke-width="3.6"/>
<text transform="translate(1422.00,188.30) scale(0.95,1)" font-size="54" letter-spacing="-0.6"><tspan font-family="IPAPGothic, Liberation Sans, sans-serif" font-size="93.6%">1</tspan> kHz</text>
<line x1="1299" y1="232.4" x2="1411" y2="232.4" stroke="#000000" stroke-width="3.6"/>
<text transform="translate(1422.00,248.90) scale(0.95,1)" font-size="54" letter-spacing="-0.6">2 kHz</text>
<line x1="1299" y1="293.0" x2="1411" y2="293.0" stroke="#0000FF" stroke-width="3.6"/>
<text transform="translate(1422.00,309.50) scale(0.95,1)" font-size="54" letter-spacing="-0.6">5 kHz</text>
<line x1="1299" y1="353.6" x2="1411" y2="353.6" stroke="#00FFFF" stroke-width="3.6"/>
<text transform="translate(1422.00,370.10) scale(0.95,1)" font-size="54" letter-spacing="-0.6"><tspan font-family="IPAPGothic, Liberation Sans, sans-serif" font-size="93.6%">1</tspan>0 kHz</text>
<line x1="1299" y1="414.2" x2="1411" y2="414.2" stroke="#FF8000" stroke-width="3.6"/>
<text transform="translate(1422.00,430.70) scale(0.95,1)" font-size="54" letter-spacing="-0.6">20 kHz</text>
<line x1="1299" y1="474.8" x2="1411" y2="474.8" stroke="#00FF00" stroke-width="3.6"/>
<text transform="translate(1422.00,491.30) scale(0.95,1)" font-size="54" letter-spacing="-0.6">50 kHz</text>
<line x1="1682.4" y1="171.8" x2="1795.6" y2="171.8" stroke="#FF00FF" stroke-width="3.6"/>
<text transform="translate(1806.00,188.30) scale(0.95,1)" font-size="54" letter-spacing="-0.6"><tspan font-family="IPAPGothic, Liberation Sans, sans-serif" font-size="93.6%">1</tspan>00 kHz</text>
<line x1="1682.4" y1="232.4" x2="1795.6" y2="232.4" stroke="#0000FF" stroke-width="3.6"/>
<text transform="translate(1806.00,248.90) scale(0.95,1)" font-size="54" letter-spacing="-0.6">500 kHz</text>
<line x1="1682.4" y1="293.0" x2="1795.6" y2="293.0" stroke="#FFFF66" stroke-width="3.6"/>
<text transform="translate(1806.00,309.50) scale(0.95,1)" font-size="54" letter-spacing="-0.6"><tspan font-family="IPAPGothic, Liberation Sans, sans-serif" font-size="93.6%">1</tspan> MHz</text>
<text transform="translate(1698.00,491.50) scale(0.866,1)" font-size="56.0">T(ε<tspan font-size="41" dy="13">max</tspan><tspan dy="-13">)=53ºC at <tspan font-family="IPAPGothic, Liberation Sans, sans-serif" font-size="93.6%">1</tspan>kHz</tspan></text>
</svg></body></html>
